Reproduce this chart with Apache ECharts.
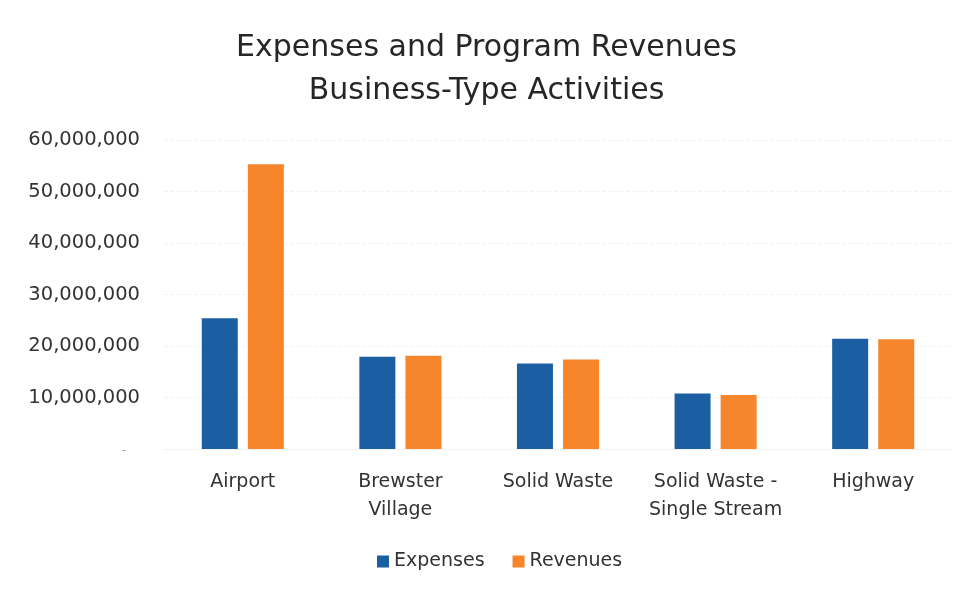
<!DOCTYPE html>
<html>
<head>
<meta charset="utf-8">
<script src="https://cdn.jsdelivr.net/npm/echarts@6/dist/echarts.min.js"></script>
<style>
  html, body { margin: 0; padding: 0; background: #fff; }
  #chart { width: 973px; height: 592px; }
</style>
</head>
<body>
<div id="chart"></div>
<script>
// chart data
var categories = ['Airport', 'Brewster\nVillage', 'Solid Waste', 'Solid Waste -\nSingle Stream', 'Highway'];
var expenses = [25400000, 17900000, 16600000, 10800000, 21400000];
var revenues = [55300000, 18100000, 17400000, 10500000, 21300000];
var yTicks = [0, 10000000, 20000000, 30000000, 40000000, 50000000, 60000000];

var myChart = echarts.init(document.getElementById('chart'));

var option = {
  animation: false,
  title: {
    text: 'Expenses and Program Revenues\nBusiness-Type Activities',
    left: 'center',
    top: 22,
    textStyle: {
      fontFamily: 'DejaVu Sans',
      fontWeight: 'normal',
      fontSize: 30,
      lineHeight: 43,
      color: '#262626'
    }
  },
  legend: {
    data: ['Expenses', 'Revenues'],
    bottom: 16,
    left: 372,
    itemWidth: 12,
    itemHeight: 12,
    itemGap: 28,
    icon: 'rect',
    textStyle: { fontFamily: 'DejaVu Sans', fontSize: 19, color: '#333' }
  },
  grid: {
    left: 164,
    right: 21,
    top: 140,
    bottom: 143
  },
  xAxis: {
    type: 'category',
    data: categories,
    axisLine: { show: true, lineStyle: { color: '#f2f2f2' } },
    axisTick: { show: false },
    axisLabel: {
      interval: 0,
      fontFamily: 'DejaVu Sans',
      fontSize: 19,
      color: '#333',
      lineHeight: 28,
      margin: 19
    }
  },
  yAxis: {
    type: 'value',
    min: yTicks[0],
    max: yTicks[yTicks.length - 1],
    interval: 10000000,
    axisLine: { show: false },
    axisTick: { show: false },
    splitLine: { lineStyle: { color: '#f2f2f2', type: 'dashed' } },
    axisLabel: {
      fontFamily: 'DejaVu Sans',
      fontSize: 19.5,
      color: '#333',
      margin: 24,
      formatter: function (v) {
        if (v === 0) return '{z|-}';
        return v.toLocaleString('en-US');
      },
      rich: { z: { color: '#999', fontSize: 12, padding: [4, 14, 0, 0] } }
    }
  },
  series: [
    {
      name: 'Expenses',
      type: 'bar',
      data: expenses,
      barWidth: 36,
      barGap: '28%',
      itemStyle: { color: '#1c5ea2' }
    },
    {
      name: 'Revenues',
      type: 'bar',
      data: revenues,
      barWidth: 36,
      itemStyle: { color: '#f6852c' }
    }
  ]
};

myChart.setOption(option);
</script>
</body>
</html>
